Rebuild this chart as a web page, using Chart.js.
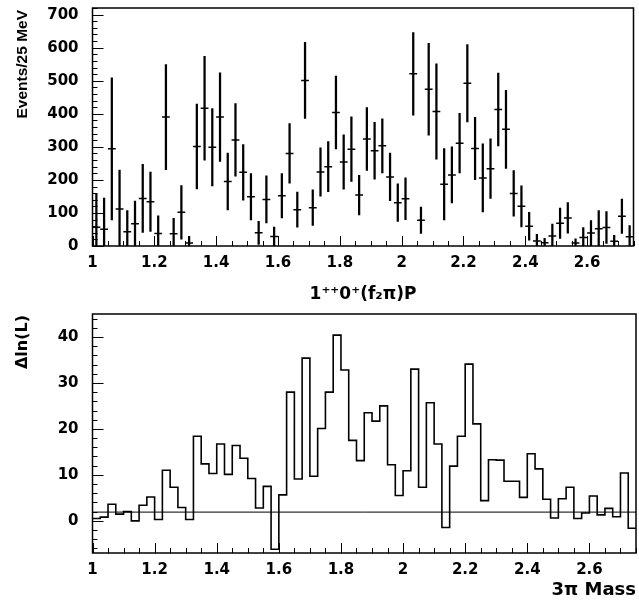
<!DOCTYPE html>
<html>
<head>
<meta charset="utf-8">
<script src="https://cdn.jsdelivr.net/npm/chart.js@4.4.1/dist/chart.umd.min.js"></script>
<style>
  body { margin: 0; background: #fff; }
  canvas { display: block; }
</style>
</head>
<body>
<canvas id="top" width="639" height="310"></canvas>
<canvas id="bottom" width="639" height="294"></canvas>
<script>
// 3pi mass binning: 25 MeV bins from 1.0 to 2.75
const massLow = 1.0;
const massHigh = 2.75;
const binWidth = 0.025;

// 1++0+(f2 pi)P intensity per bin, with errors
const events = [
  57, 51, 294, 112, 43, 67, 144, 134, 38, 390,
  37, 102, 9, 301, 417, 299, 390, 195, 321, 223,
  149, 40, 141, 29, 152, 280, 110, 501, 116, 224,
  240, 404, 254, 293, 154, 324, 288, 303, 209, 131,
  143, 521, 78, 474, 407, 187, 215, 311, 492, 295,
  206, 234, 413, 353, 159, 120, 60, 15, 10, 30,
  69, 85, 9, 26, 39, 52, 56, 14, 90, 28
];
const eventErrors = [
  100, 94, 215, 118, 64, 69, 103, 90, 53, 159,
  47, 81, 20, 128, 157, 117, 134, 86, 110, 84,
  70, 35, 71, 28, 67, 90, 53, 115, 54, 73,
  76, 110, 82, 98, 60, 95, 86, 82, 72, 57,
  63, 125, 40, 139, 144, 108, 85, 90, 117, 94,
  103, 90, 110, 118, 69, 62, 42, 20, 13, 36,
  46, 46, 13, 30, 38, 55, 48, 18, 52, 34
];

// delta ln(L) per bin
const deltaLnL = [
  0.5, 0.8, 3.6, 1.45, 2.0, 0.0, 3.4, 5.2, 0.3, 11.0,
  7.3, 2.9, 0.3, 18.4, 12.4, 10.3, 16.7, 10.1, 16.4, 13.6,
  9.2, 2.8, 7.5, -6.2, 5.65, 28.0, 9.1, 35.4, 9.7, 20.1,
  28.0, 40.4, 32.8, 17.5, 13.1, 23.5, 21.7, 25.0, 12.2, 5.5,
  10.9, 33.0, 7.3, 25.7, 16.7, -1.45, 11.9, 18.4, 34.1, 21.1,
  4.4, 13.3, 13.2, 8.6, 8.6, 5.1, 14.6, 11.3, 4.7, 0.6,
  4.8, 7.3, 0.5, 1.7, 5.4, 1.3, 2.7, 0.9, 10.4, -1.6
];
const refLevel = 1.9;

Chart.defaults.color = "#000";
Chart.defaults.font.family = "'DejaVu Sans', sans-serif";
Chart.defaults.font.weight = "bold";

// frame box and inward ticks, like the original plot
const frameTicks = {
  id: "frameTicks",
  afterDatasetsDraw(chart, args, opts) {
    const { ctx, chartArea: a, scales: { x, y } } = chart;
    ctx.save();
    ctx.strokeStyle = "#000";
    ctx.lineWidth = 1;
    ctx.beginPath();
    const nx = Math.round((x.max - x.min) / opts.xMinor);
    for (let k = 0; k <= nx; k++) {
      const v = x.min + k * opts.xMinor;
      const r = (v - x.min) / opts.xMajor;
      const len = Math.abs(r - Math.round(r)) < 1e-6 ? 10 : 5;
      const px = Math.round(x.getPixelForValue(v)) + 0.5;
      ctx.moveTo(px, a.bottom);
      ctx.lineTo(px, a.bottom - len);
    }
    for (let v = Math.ceil(y.min / opts.yMinor) * opts.yMinor; v <= y.max; v += opts.yMinor) {
      const len = v % opts.yMajor === 0 ? 11 : 5;
      const py = Math.round(y.getPixelForValue(v)) + 0.5;
      ctx.moveTo(a.left, py);
      ctx.lineTo(a.left + len, py);
    }
    ctx.stroke();
    ctx.lineWidth = 1.5;
    ctx.strokeRect(a.left, a.top, a.right - a.left, a.bottom - a.top);
    ctx.restore();
  }
};

// rotated y title pinned to the top of the frame
const yTitle = {
  id: "yTitle",
  afterDraw(chart, args, opts) {
    const { ctx, chartArea } = chart;
    ctx.save();
    ctx.translate(opts.x, chartArea.top + opts.offset);
    ctx.rotate(-Math.PI / 2);
    ctx.font = opts.font;
    ctx.fillStyle = "#000";
    ctx.textAlign = "right";
    ctx.textBaseline = "middle";
    ctx.fillText(opts.text, 0, 0);
    ctx.restore();
  }
};

// keep the frame where the layout padding puts it
const noLabelPadding = (s) => {
  s.paddingTop = 0;
  s.paddingBottom = 0;
  s.paddingLeft = 0;
  s.paddingRight = 0;
};

const centers = events.map((_, i) => massLow + (i + 0.5) * binWidth);
const edges = deltaLnL.map((_, i) => massLow + i * binWidth);

const xAxis = (title, titleSize, titleAlign, titlePad, height) => ({
  type: "linear",
  min: massLow,
  max: massHigh,
  offset: false,
  grid: { display: false, drawTicks: false },
  border: { display: false },
  ticks: {
    stepSize: 0.2,
    includeBounds: false,
    padding: 8,
    maxRotation: 0,
    autoSkip: false,
    font: { size: 15 },
    callback: (v) => String(+v.toFixed(1))
  },
  title: { display: true, text: title, align: titleAlign, font: { size: titleSize }, padding: { top: 0, bottom: titlePad } },
  afterFit: (s) => { s.height = height; noLabelPadding(s); }
});

const yAxis = (min, max, step) => ({
  min: min,
  max: max,
  grid: { display: false, drawTicks: false },
  border: { display: false },
  ticks: { stepSize: step, includeBounds: false, padding: 14, font: { size: 15 } },
  afterFit: (s) => { s.width = 92.5; noLabelPadding(s); }
});

new Chart(document.getElementById("top"), {
  type: "bar",
  plugins: [frameTicks, yTitle],
  data: {
    datasets: [
      {
        type: "bar",
        data: events.map((v, i) => ({ x: centers[i], y: [Math.max(0, v - eventErrors[i]), v + eventErrors[i]] })),
        backgroundColor: "#000",
        barThickness: 1.6,
        grouped: false
      },
      {
        type: "scatter",
        data: events.map((v, i) => ({ x: centers[i], y: v })),
        pointStyle: "line",
        pointRadius: 3.9,
        borderColor: "#000",
        borderWidth: 1.5,
        showLine: false
      }
    ]
  },
  options: {
    responsive: false,
    animation: false,
    devicePixelRatio: 1,
    layout: { padding: { top: 8, right: 3, left: 0, bottom: 0 } },
    plugins: {
      legend: { display: false },
      tooltip: { enabled: false },
      frameTicks: { xMinor: 0.05, xMajor: 0.2, yMinor: 20, yMajor: 100 },
      yTitle: { text: "Events/25 MeV", font: "bold 15.5px 'Liberation Sans', sans-serif", x: 23, offset: 2 }
    },
    scales: {
      x: xAxis("1\u207A\u207A0\u207A(f\u2082\u03C0)P", 17, "center", 5, 64),
      y: yAxis(0, 720, 100)
    }
  }
});

new Chart(document.getElementById("bottom"), {
  type: "line",
  plugins: [frameTicks, yTitle],
  data: {
    datasets: [
      {
        data: deltaLnL.map((v, i) => ({ x: edges[i], y: v })).concat([{ x: massHigh, y: deltaLnL[deltaLnL.length - 1] }]),
        stepped: "before",
        borderColor: "#000",
        borderWidth: 1.6,
        pointRadius: 0,
        fill: false
      },
      {
        data: [{ x: massLow, y: refLevel }, { x: massHigh, y: refLevel }],
        borderColor: "#000",
        borderWidth: 1,
        pointRadius: 0,
        fill: false
      }
    ]
  },
  options: {
    responsive: false,
    animation: false,
    devicePixelRatio: 1,
    layout: { padding: { top: 4, right: 3, left: 0, bottom: 0 } },
    plugins: {
      legend: { display: false },
      tooltip: { enabled: false },
      frameTicks: { xMinor: 0.05, xMajor: 0.2, yMinor: 2, yMajor: 10 },
      yTitle: { text: "\u0394ln(L)", font: "bold 16px 'DejaVu Sans', sans-serif", x: 23, offset: 1 }
    },
    scales: {
      x: xAxis("3\u03C0 Mass", 18, "end", 2.6, 51),
      y: yAxis(-7, 45, 10)
    }
  }
});
</script>
</body>
</html>
